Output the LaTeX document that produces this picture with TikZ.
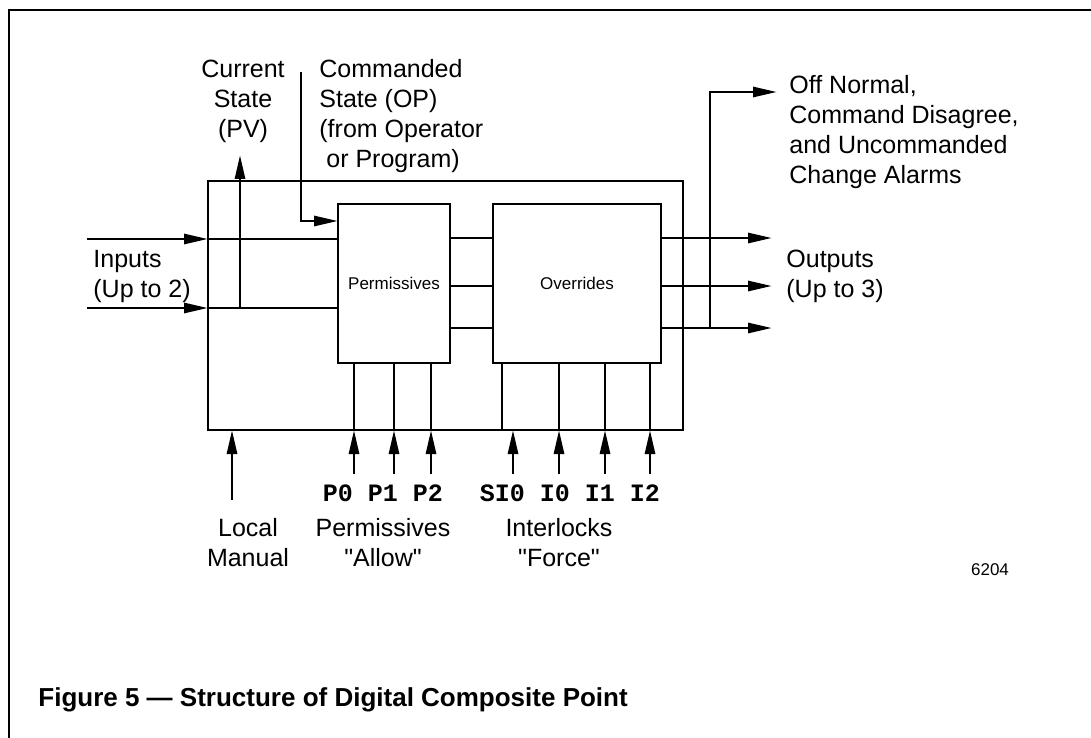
\documentclass[tikz,border=0pt]{standalone}
\usepackage{fontspec}
\setmainfont{Liberation Sans}
\setmonofont{Liberation Mono}
\usetikzlibrary{arrows.meta, positioning}

\begin{document}
\begin{tikzpicture}[x=1pt, y=-1pt, line width=2.8pt,
  box/.style={rectangle, draw, outer sep=0pt, inner sep=0pt, minimum height=159pt,
    font=\fontsize{17}{20}\selectfont},
  lbl/.style={inner sep=0pt, font=\fontsize{25}{30}\selectfont},
  sig/.style={inner sep=0pt, font=\fontsize{25}{30}\selectfont\ttfamily\bfseries},
  arr/.style={-{Triangle[length=24pt, width=10pt]}}]

\useasboundingbox (0,0) rectangle (1091,738);
\draw (9,738) -- (9,10) -- (1091,10);

\node[box, minimum width=475pt, minimum height=249pt] (dcp) at (445.5,305.5) {};
\node[box, minimum width=112pt] (perm) at (394,283.5) {Permissives};
\node[box, minimum width=168pt, right=43pt of perm] (ovr) {Overrides};

\coordinate (in1) at (87,239);
\coordinate (in2) at (87,308);
\coordinate (pv) at (240,155);
\coordinate (op) at (301,72);
\coordinate (tap) at (710,328);
\coordinate (alm) at (777,92);
\coordinate (out) at (772,286);
\coordinate (lm) at (232,500);

\foreach \i in {in1,in2} {
  \draw[arr] (\i) -- (\i -| dcp.west);
  \draw (\i -| dcp.west) -- (\i -| perm.west);
}
\draw[arr] (in2 -| pv) -- (pv);
\draw[arr] (op) |- (perm.west |- 0,221);

\foreach \y in {238,286,328} {
  \draw (perm.east |- 0,\y) -- (ovr.west |- 0,\y);
  \draw[arr] (ovr.east |- 0,\y) -- (out |- 0,\y);
}
\draw[arr] (tap) |- (alm);

\draw[arr] (lm) -- (lm |- dcp.south);
\foreach \x in {354,394,431} {
  \draw[arr] (\x,474) -- (dcp.south -| \x,0);
  \draw (dcp.south -| \x,0) -- (perm.south -| \x,0);
}
\foreach \a/\b in {513/502,559/559,605/605,650/650} {
  \draw[arr] (\a,474) -- (dcp.south -| \a,0);
  \draw (dcp.south -| \b,0) -- (ovr.south -| \b,0);
}

\node[lbl, align=center, anchor=north] (cur) at (243,59) {Current\\State\\(PV)};
\node[lbl, align=left, anchor=north west] (cmd) at (318,58)
  {Commanded\\State (OP)\\(from Operator\\\hspace*{7pt}or Program)};
\node[lbl, align=left, anchor=north west] (alarms) at (788,74)
  {Off Normal,\\Command Disagree,\\and Uncommanded\\Change Alarms};
\node[lbl, align=left, anchor=north west] (outs) at (785,249) {Outputs\\(Up to 3)};
\node[lbl, align=left, anchor=north west] (ins) at (92,249) {Inputs\\(Up to 2)};

\node[sig] (psig) at (383,493) {P0 P1 P2};
\node[sig] (isig) at (570,493) {SI0 I0 I1 I2};
\node[lbl, align=center, anchor=north] (lman) at (248,517) {Local\\Manual};
\node[lbl, align=center, anchor=north] (pall) at (383,517)
  {Permissives\\\textquotedbl Allow\textquotedbl};
\node[lbl, align=center, anchor=north] (ifor) at (559,517)
  {Interlocks\\\textquotedbl Force\textquotedbl};

\node[inner sep=0pt, font=\fontsize{17}{20}\selectfont] (fig) at (990,570) {6204};
\node[inner sep=0pt, anchor=base west, font=\fontsize{26}{30}\selectfont\bfseries] (cap)
  at (37,706) {Figure 5 — Structure of Digital Composite Point};

\end{tikzpicture}
\end{document}
